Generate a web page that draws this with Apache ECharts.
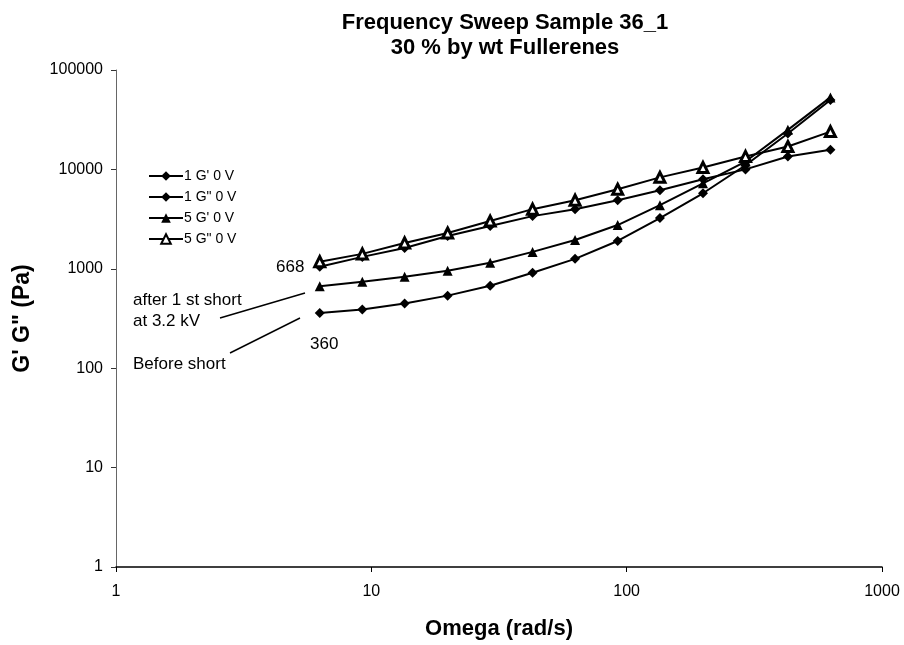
<!DOCTYPE html>
<html>
<head>
<meta charset="utf-8">
<script src="https://cdn.jsdelivr.net/npm/echarts@6/dist/echarts.min.js"></script>
<style>
  html, body { margin: 0; padding: 0; background: #fff; }
  #chart { width: 904px; height: 645px; }
</style>
</head>
<body>
<div id="chart"></div>
<script>
// frequency (rad/s)
const omega = [6.28, 9.22, 13.5, 19.9, 29.2, 42.8, 62.8, 92.2, 135, 199, 292, 428, 628];
// storage / loss moduli (Pa)
const g1Storage = [360, 389, 447, 537, 676, 912, 1259, 1905, 3236, 5750, 11000, 23000, 50000];
const g1Loss = [1050, 1318, 1622, 2138, 2690, 3388, 3980, 4900, 6166, 7943, 10000, 13500, 15800];
const g5Storage = [668, 741, 832, 955, 1148, 1479, 1950, 2754, 4365, 7244, 12000, 25000, 53000];
const g5Loss = [1180, 1413, 1820, 2290, 3020, 3981, 4900, 6310, 8318, 10470, 13500, 17000, 24000];
const seriesNames = ["1 G' 0 V", '1 G" 0 V', "5 G' 0 V", '5 G" 0 V'];

const FONT = "'Liberation Sans', Arial, sans-serif";
const chart = echarts.init(document.getElementById("chart"));

const pairs = (ys) => omega.map((x, i) => [x, ys[i]]);

const mkSeries = (name, ys, symbol, size, open) => ({
  name: name,
  type: "line",
  data: pairs(ys),
  symbol: symbol,
  symbolSize: size,
  showAllSymbol: true,
  lineStyle: { color: "#000", width: 2 },
  itemStyle: open
    ? { color: "#fff", borderColor: "#000", borderWidth: 3 }
    : { color: "#000", borderColor: "#000", borderWidth: 0 },
  emphasis: { disabled: true },
  animation: false,
});

const options = {
  backgroundColor: "#fff",
  textStyle: { fontFamily: FONT, color: "#000" },
  animation: false,
  title: {
    text: "Frequency Sweep Sample 36_1\n30 % by wt Fullerenes",
    left: 500,
    textAlign: "center",
    top: 5,
    textStyle: { fontFamily: FONT, fontSize: 22, fontWeight: "bold", color: "#000", lineHeight: 25 },
  },
  legend: {
    orient: "vertical",
    left: 143,
    top: 164,
    itemWidth: 34,
    itemHeight: 12,
    itemGap: 7,
    textStyle: { fontFamily: FONT, fontSize: 14, color: "#000", padding: [0, 0, 0, -4] },
    data: seriesNames,
  },
  grid: { left: 116, right: 22, top: 70, bottom: 75 },
  xAxis: {
    type: "log",
    logBase: 10,
    min: 1,
    max: 1000,
    name: "Omega (rad/s)",
    nameLocation: "middle",
    nameGap: 51,
    nameTextStyle: { fontFamily: FONT, fontSize: 22, fontWeight: "bold", color: "#000" },
    axisLine: { lineStyle: { color: "#000", width: 1.5 } },
    axisTick: { show: true, inside: false, length: 5, lineStyle: { color: "#000" } },
    minorTick: { show: false },
    splitLine: { show: false },
    axisLabel: {
      fontFamily: FONT,
      fontSize: 16,
      color: "#000",
      margin: 17,
      formatter: (v) => String(Math.round(v)),
    },
  },
  yAxis: {
    type: "log",
    logBase: 10,
    min: 1,
    max: 100000,
    name: "G' G\" (Pa)",
    nameLocation: "middle",
    nameGap: 82,
    nameRotate: 90,
    nameTextStyle: { fontFamily: FONT, fontSize: 23, fontWeight: "bold", color: "#000" },
    axisLine: { show: true, lineStyle: { color: "#666", width: 1 } },
    axisTick: { show: true, inside: false, length: 5, lineStyle: { color: "#333" } },
    minorTick: { show: false },
    splitLine: { show: false },
    axisLabel: {
      fontFamily: FONT,
      fontSize: 16,
      color: "#000",
      margin: 13,
      formatter: (v) => String(Math.round(v)),
    },
  },
  graphic: [
    { type: "text", left: 276, top: 259, style: { text: "668", font: "17px " + FONT, fill: "#000" } },
    { type: "text", left: 310, top: 336, style: { text: "360", font: "17px " + FONT, fill: "#000" } },
    {
      type: "text", left: 133, top: 290,
      style: { text: "after 1 st short\nat 3.2 kV", font: "17px " + FONT, fill: "#000", lineHeight: 21 },
    },
    { type: "text", left: 133, top: 356, style: { text: "Before short", font: "17px " + FONT, fill: "#000" } },
    { type: "line", shape: { x1: 220, y1: 318, x2: 305, y2: 293 }, style: { stroke: "#000", lineWidth: 1.5 } },
    { type: "line", shape: { x1: 230, y1: 353, x2: 300, y2: 318 }, style: { stroke: "#000", lineWidth: 1.5 } },
  ],
  series: [
    mkSeries(seriesNames[0], g1Storage, "diamond", 10, false),
    mkSeries(seriesNames[1], g1Loss, "diamond", 10, false),
    mkSeries(seriesNames[2], g5Storage, "triangle", 10, false),
    mkSeries(seriesNames[3], g5Loss, "triangle", 10, true),
  ],
};

chart.setOption(options);
</script>
</body>
</html>
